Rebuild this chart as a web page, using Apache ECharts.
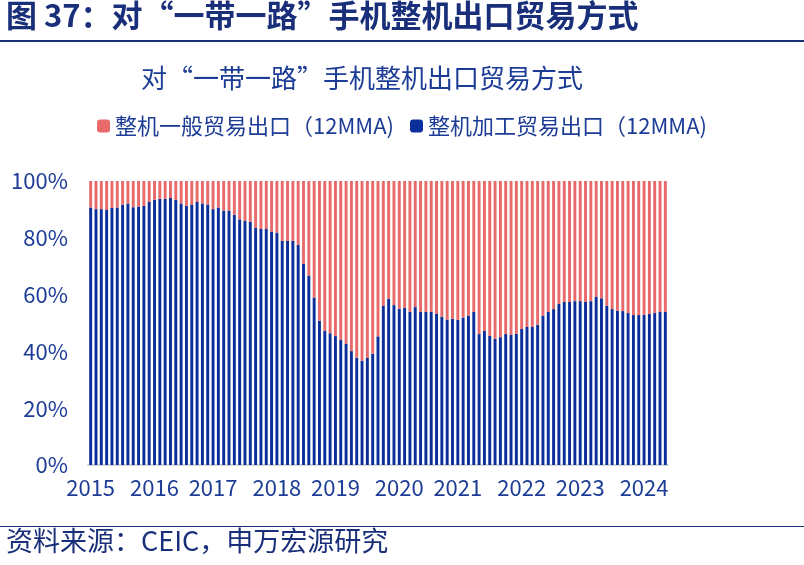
<!DOCTYPE html>
<html><head><meta charset="utf-8">
<script src="https://cdn.jsdelivr.net/npm/echarts@6/dist/echarts.min.js"></script>
<style>body{margin:0;background:#fff}#c{width:804px;height:565px}</style>
</head><body><div id="c"></div>
<script>
// 整机加工贸易出口占比 (12MMA), 2015-01 起逐月
var processing = [90.7,90.1,90.1,89.8,90.5,90.7,91.7,92.1,90.8,91.0,91.2,92.6,
  93.4,93.7,93.7,94.0,93.3,92.1,91.3,91.7,92.6,92.1,91.7,90.1,
  90.7,89.6,89.6,88.1,86.5,85.9,85.6,83.5,83.1,83.1,82.2,81.8,
  78.9,78.9,78.9,77.5,70.8,66.7,59.0,50.8,47.2,46.4,45.4,44.0,
  42.7,40.1,37.8,36.7,37.7,39.2,45.3,56.0,58.5,56.3,55.0,55.3,
  54.0,55.6,53.9,53.9,53.9,53.2,52.2,51.2,51.5,51.1,51.9,52.6,
  53.9,46.1,47.2,45.5,44.4,45.0,46.1,45.8,46.2,47.9,48.6,48.6,
  49.4,52.6,53.9,54.9,56.7,57.4,57.4,57.7,57.7,57.4,57.7,59.2,
  58.7,56.0,54.9,54.3,54.2,53.5,52.8,52.8,52.9,53.2,53.5,53.9,53.9];
var general = processing.map(function (v) { return +(100 - v).toFixed(1); });
var years = ['2015','2016','2017','2018','2019','2020','2021','2022','2023','2024'];
var categories = processing.map(function (v, i) { return 'm' + i; });
var yearStep = 11.5;

var chart = echarts.init(document.getElementById('c'));
var font = '"Noto Sans CJK SC", sans-serif';
var txt = '#1c3c96';
chart.setOption({
  animation: false,
  textStyle: { fontFamily: font },
  title: {
    text: '对“一带一路”手机整机出口贸易方式',
    left: 136, top: 60,
    textStyle: { fontSize: 26, fontWeight: 'normal', color: txt, fontFamily: font }
  },
  legend: {
    top: 110, left: 'center', itemWidth: 13, itemHeight: 13, itemGap: 16,
    textStyle: { fontSize: 22, color: txt, fontFamily: font },
    data: ['整机一般贸易出口（12MMA)', '整机加工贸易出口（12MMA)']
  },
  graphic: [
    { type: 'text', left: 6, top: 0, style: { text: '图 37：对“一带一路”手机整机出口贸易方式', fontSize: 31, fontWeight: 'bold', fill: '#1a2f7a', fontFamily: font } },
    { type: 'rect', shape: { x: 0, y: 40, width: 804, height: 2 }, style: { fill: '#1a2f7a' } },
    { type: 'rect', shape: { x: 0, y: 526, width: 804, height: 1 }, style: { fill: '#1a2f7a' } },
    { type: 'text', left: 6, top: 527, style: { text: '资料来源：CEIC，申万宏源研究', fontSize: 27, fill: '#1a2f7a', fontFamily: font } }
  ],
  grid: { left: 88, right: 136, top: 181, bottom: 100 },
  xAxis: {
    type: 'category', data: categories,
    axisLine: { lineStyle: { color: '#d9d9d9', width: 2 } },
    axisTick: { show: false },
    axisLabel: {
      interval: 0, fontSize: 22, color: txt, margin: 12,
      formatter: function (val, i) {
        for (var k = 0; k < years.length; k++) {
          if (Math.round(k * yearStep) === i) return years[k];
        }
        return '';
      }
    }
  },
  yAxis: {
    type: 'value', min: 0, max: 100, interval: 20,
    axisLine: { show: false }, axisTick: { show: false }, splitLine: { show: false },
    axisLabel: { formatter: '{value}%', fontSize: 22, color: txt, margin: 20 }
  },
  series: [
    { name: '整机加工贸易出口（12MMA)', type: 'bar', stack: 'a', data: processing,
      itemStyle: { color: '#0b2f9a' }, barCategoryGap: '45%' },
    { name: '整机一般贸易出口（12MMA)', type: 'bar', stack: 'a', data: general,
      itemStyle: { color: '#e96a6a' } }
  ]
});
</script></body></html>
